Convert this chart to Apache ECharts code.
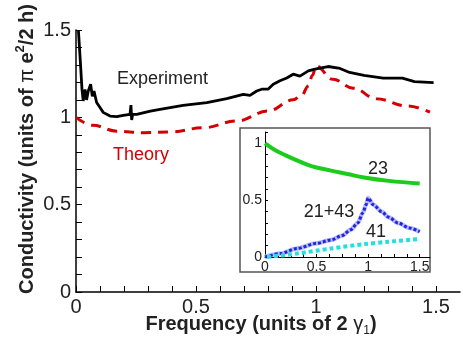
<!DOCTYPE html>
<html>
<head>
<meta charset="utf-8">
<script src="https://cdn.jsdelivr.net/npm/echarts@6/dist/echarts.min.js"></script>
<style>
  html, body { margin: 0; padding: 0; background: #fff; }
  #chart { width: 463px; height: 344px; }
</style>
</head>
<body>
<div id="chart"></div>
<script>
// main plot: [frequency, conductivity]
const experimentCurve = [
  [0.01, 1.50], [0.014, 1.50], [0.02, 1.276], [0.025, 1.16], [0.03, 1.094], [0.0375, 1.16],
  [0.044, 1.10], [0.051, 1.15], [0.061, 1.19], [0.068, 1.12], [0.075, 1.15], [0.086, 1.085],
  [0.10, 1.056], [0.114, 1.027], [0.128, 1.017], [0.142, 1.007], [0.17, 1.004], [0.197, 1.011],
  [0.225, 1.017], [0.229, 1.07], [0.232, 0.985], [0.236, 1.017], [0.253, 1.017], [0.31, 1.036],
  [0.35, 1.046], [0.446, 1.069], [0.545, 1.084], [0.628, 1.107], [0.697, 1.132], [0.725, 1.126],
  [0.753, 1.151], [0.774, 1.161], [0.80, 1.161], [0.822, 1.19], [0.85, 1.209], [0.878, 1.225],
  [0.905, 1.247], [0.933, 1.236], [0.968, 1.266], [0.996, 1.276], [1.05, 1.291], [1.10, 1.28],
  [1.14, 1.257], [1.20, 1.24], [1.28, 1.224], [1.36, 1.224], [1.41, 1.205], [1.49, 1.199]
];
const theoryCurve = [
  [0, 1.0], [0.07, 0.954], [0.17, 0.921], [0.28, 0.912], [0.39, 0.916], [0.53, 0.94],
  [0.67, 0.979], [0.80, 1.036], [0.905, 1.10], [0.94, 1.125], [0.968, 1.18], [0.985, 1.24],
  [1.0, 1.295], [1.07, 1.218], [1.155, 1.167], [1.25, 1.107], [1.38, 1.065], [1.475, 1.03]
];
// inset: [frequency, value]
const inset23 = [
  [0, 1.0], [0.1, 0.94], [0.2, 0.895], [0.31, 0.85], [0.45, 0.80], [0.64, 0.76],
  [0.8, 0.73], [0.96, 0.70], [1.2, 0.67], [1.5, 0.646]
];
const inset2143 = [
  [0, 0], [0.15, 0.03], [0.31, 0.075], [0.5, 0.12], [0.64, 0.15], [0.75, 0.19], [0.83, 0.24],
  [0.9, 0.30], [0.95, 0.39], [0.98, 0.46], [1.0, 0.52], [1.05, 0.46], [1.13, 0.40],
  [1.2, 0.35], [1.29, 0.30], [1.4, 0.255], [1.5, 0.223]
];
const inset41 = [
  [0.02, 0], [0.31, 0.03], [0.64, 0.075], [0.96, 0.113], [1.2, 0.135], [1.5, 0.158]
];

// tick positions and labels
const mainXLabels = [0, 0.5, 1, 1.5];
const mainXTicks = [0, 0.1, 0.2, 0.3, 0.4, 0.5, 0.6, 0.7, 0.8, 0.9, 1, 1.1, 1.2, 1.3, 1.4, 1.5];
const mainYLabels = [0, 0.5, 1, 1.5];
const mainYTicks = [0, 0.1, 0.2, 0.3, 0.4, 0.5, 0.6, 0.7, 0.8, 0.9, 1, 1.1, 1.2, 1.3, 1.4, 1.5];
const insetXLabels = [0, 0.5, 1, 1.5];
const insetXTicks = [0, 0.125, 0.25, 0.375, 0.5, 0.625, 0.75, 0.875, 1, 1.125, 1.25, 1.375, 1.5];
const insetYLabels = [0, 0.5, 1];
const insetYTicks = [0, 0.1, 0.2, 0.3, 0.4, 0.5, 0.6, 0.7, 0.8, 0.9, 1, 1.1];

const FONT = '"Liberation Sans", Arial, Helvetica, sans-serif';
const TXT = '#222';

function axis(opts) {
  return {
    type: 'value',
    gridIndex: opts.grid,
    min: 0,
    max: opts.max,
    axisLine: { show: true, onZero: false, lineStyle: { color: '#000', width: opts.lw } },
    axisTick: {
      show: true, inside: true, length: opts.tick, customValues: opts.ticks,
      lineStyle: { color: '#000', width: 1 }
    },
    axisLabel: {
      customValues: opts.labels, color: TXT, fontSize: opts.fs, fontFamily: FONT, margin: opts.margin
    },
    splitLine: { show: false }
  };
}

const chart = echarts.init(document.getElementById('chart'));

const option = {
  animation: false,
  backgroundColor: '#fff',
  grid: [
    { left: 76, top: 30, width: 384, height: 262 },
    { left: 265, top: 132, width: 165, height: 125 }
  ],
  xAxis: [
    axis({ grid: 0, max: 1.6, lw: 1.5, tick: 6, ticks: mainXTicks, labels: mainXLabels, fs: 20, margin: 5 }),
    axis({ grid: 1, max: 1.6, lw: 1, tick: 3, ticks: insetXTicks, labels: insetXLabels, fs: 14, margin: 3 })
  ],
  yAxis: [
    axis({ grid: 0, max: 1.5, lw: 1.5, tick: 6, ticks: mainYTicks, labels: mainYLabels, fs: 20, margin: 5 }),
    axis({ grid: 1, max: 1.1, lw: 1, tick: 3, ticks: insetYTicks, labels: insetYLabels, fs: 14, margin: 3 })
  ],
  series: [
    {
      name: 'Experiment', type: 'line', xAxisIndex: 0, yAxisIndex: 0,
      data: experimentCurve, showSymbol: false, z: 4,
      lineStyle: { color: '#000', width: 2.8 }
    },
    {
      name: 'Theory', type: 'line', xAxisIndex: 0, yAxisIndex: 0,
      data: theoryCurve, showSymbol: false, smooth: 0.4, smoothMonotone: 'x', z: 3,
      lineStyle: { color: '#d40000', width: 3, type: [10, 7] }
    },
    {
      name: '23', type: 'line', xAxisIndex: 1, yAxisIndex: 1,
      data: inset23, showSymbol: false, smooth: 0.4,
      lineStyle: { color: '#1ccc1c', width: 4 }
    },
    {
      name: '21+43 band', type: 'line', xAxisIndex: 1, yAxisIndex: 1,
      data: inset2143, showSymbol: false, smooth: 0.3, smoothMonotone: 'x',
      lineStyle: { color: '#b4bcff', width: 4.5 }
    },
    {
      name: '21+43', type: 'line', xAxisIndex: 1, yAxisIndex: 1,
      data: inset2143, showSymbol: false, smooth: 0.3, smoothMonotone: 'x',
      lineStyle: { color: '#2424d8', width: 3, type: [3, 2] }
    },
    {
      name: '41', type: 'line', xAxisIndex: 1, yAxisIndex: 1,
      data: inset41, showSymbol: false, smooth: 0.3,
      lineStyle: { color: '#22e0e0', width: 4, type: [4, 3] }
    }
  ],
  graphic: [
    {
      type: 'rect', shape: { x: 240, y: 128, width: 190, height: 144 },
      style: { fill: 'none', stroke: '#555', lineWidth: 1.5 }
    },
    {
      type: 'text', x: 117, y: 79,
      style: { text: 'Experiment', fill: TXT, font: '18px ' + FONT, textAlign: 'left', textVerticalAlign: 'middle' }
    },
    {
      type: 'text', x: 113, y: 155,
      style: { text: 'Theory', fill: '#d40000', font: '18px ' + FONT, textAlign: 'left', textVerticalAlign: 'middle' }
    },
    {
      type: 'text', x: 378, y: 169,
      style: { text: '23', fill: TXT, font: '18px ' + FONT, textAlign: 'center', textVerticalAlign: 'middle' }
    },
    {
      type: 'text', x: 329, y: 212,
      style: { text: '21+43', fill: TXT, font: '18px ' + FONT, textAlign: 'center', textVerticalAlign: 'middle' }
    },
    {
      type: 'text', x: 376, y: 232,
      style: { text: '41', fill: TXT, font: '18px ' + FONT, textAlign: 'center', textVerticalAlign: 'middle' }
    },
    {
      // y axis title
      type: 'text', x: 27, y: 149, rotation: Math.PI / 2,
      style: {
        text: '{b|Conductivity (units of }{g|π}{b| e}{s|2}{b|/2 h)}',
        textAlign: 'center', textVerticalAlign: 'middle',
        rich: {
          b: { fontSize: 20, fontWeight: 'bold', fontFamily: FONT, fill: TXT, lineHeight: 26 },
          g: { fontSize: 20, fontFamily: FONT, fill: TXT, lineHeight: 26 },
          s: { fontSize: 13, fontWeight: 'bold', fontFamily: FONT, fill: TXT, verticalAlign: 'top', lineHeight: 26 }
        }
      }
    },
    {
      // x axis title
      type: 'text', x: 261, y: 324,
      style: {
        text: '{b|Frequency (units of 2 }{g|γ}{s|1}{b|)}',
        textAlign: 'center', textVerticalAlign: 'middle',
        rich: {
          b: { fontSize: 20, fontWeight: 'bold', fontFamily: FONT, fill: TXT, lineHeight: 26 },
          g: { fontSize: 20, fontFamily: FONT, fill: TXT, lineHeight: 26 },
          s: { fontSize: 12, fontFamily: FONT, fill: TXT, verticalAlign: 'bottom', lineHeight: 26 }
        }
      }
    }
  ]
};

chart.setOption(option);
</script>
</body>
</html>
